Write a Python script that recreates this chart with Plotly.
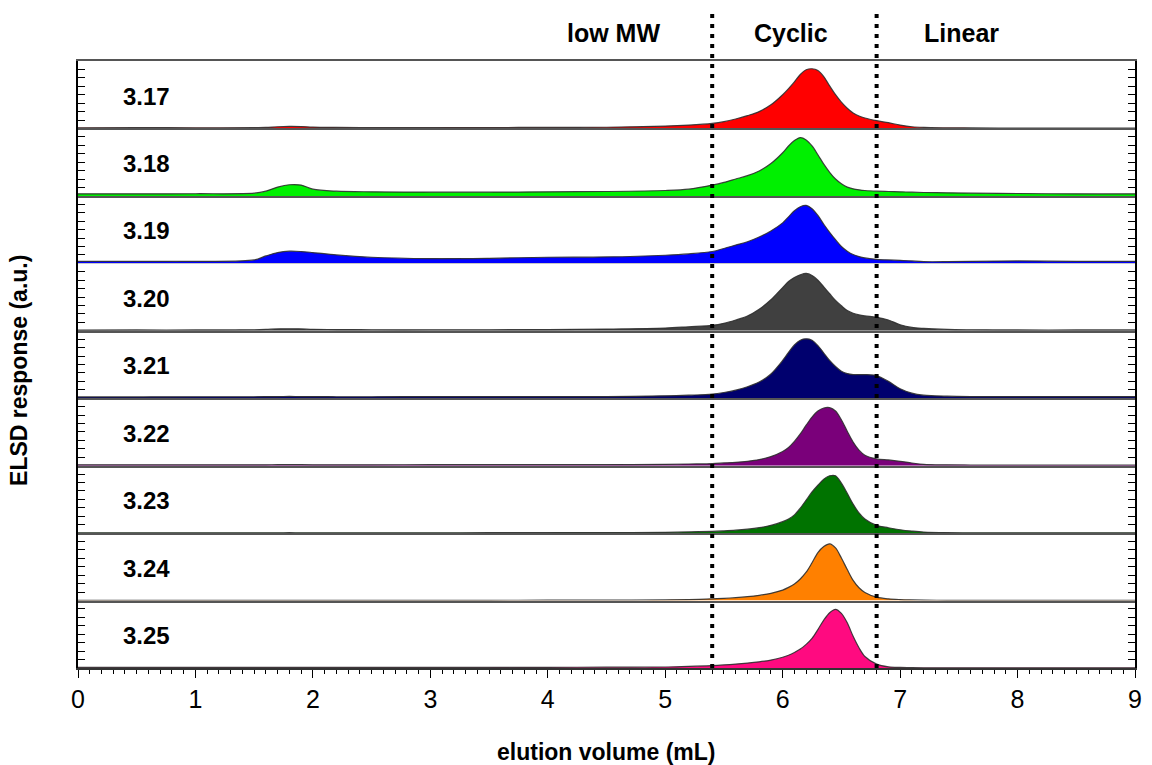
import plotly.graph_objects as go
from plotly.subplots import make_subplots

# elution volume grid (mL)
elution = [0, 0.5, 1.0, 1.5, 1.6, 1.7, 1.8, 1.9, 2.0, 2.2, 2.5, 3.0, 3.5, 4.0, 4.5,
           5.0, 5.2, 5.4, 5.5, 5.6, 5.7, 5.8, 5.9, 6.0, 6.05, 6.1, 6.15, 6.2, 6.25,
           6.3, 6.35, 6.4, 6.45, 6.5, 6.55, 6.6, 6.65, 6.7, 6.8, 6.9, 7.0, 7.1, 7.2,
           7.4, 7.6, 8.0, 8.5, 9.0]

sample_labels = ["3.17", "3.18", "3.19", "3.20", "3.21", "3.22", "3.23", "3.24", "3.25"]

# normalised ELSD response (fraction of panel height)
r317 = [0.010, 0.012, 0.010, 0.012, 0.015, 0.025, 0.030, 0.028, 0.020, 0.015, 0.012, 0.012, 0.014, 0.015, 0.018,
        0.035, 0.050, 0.075, 0.100, 0.140, 0.190, 0.250, 0.350, 0.500, 0.590, 0.690, 0.800, 0.870, 0.885,
        0.860, 0.770, 0.630, 0.500, 0.390, 0.300, 0.230, 0.185, 0.155, 0.115, 0.085, 0.050, 0.025, 0.015,
        0.010, 0.008, 0.006, 0.006, 0.005]
r318 = [0.030, 0.030, 0.032, 0.040, 0.070, 0.130, 0.165, 0.160, 0.100, 0.070, 0.060, 0.055, 0.055, 0.060, 0.065,
        0.080, 0.100, 0.160, 0.200, 0.250, 0.300, 0.370, 0.480, 0.640, 0.740, 0.820, 0.865, 0.830, 0.740,
        0.610, 0.470, 0.350, 0.250, 0.180, 0.130, 0.105, 0.090, 0.080, 0.070, 0.065, 0.060, 0.055, 0.050,
        0.045, 0.040, 0.035, 0.030, 0.030]
r319 = [0.030, 0.030, 0.030, 0.050, 0.110, 0.160, 0.180, 0.175, 0.160, 0.125, 0.090, 0.070, 0.075, 0.090, 0.095,
        0.120, 0.140, 0.175, 0.220, 0.270, 0.320, 0.390, 0.480, 0.600, 0.690, 0.780, 0.840, 0.860, 0.810,
        0.710, 0.580, 0.460, 0.350, 0.250, 0.180, 0.130, 0.100, 0.080, 0.060, 0.050, 0.045, 0.035, 0.025,
        0.025, 0.030, 0.035, 0.030, 0.030]
r320 = [0.010, 0.012, 0.012, 0.015, 0.020, 0.028, 0.030, 0.028, 0.022, 0.018, 0.015, 0.015, 0.015, 0.018, 0.025,
        0.040, 0.060, 0.080, 0.110, 0.160, 0.220, 0.320, 0.460, 0.640, 0.730, 0.790, 0.830, 0.850, 0.820,
        0.750, 0.650, 0.550, 0.450, 0.370, 0.300, 0.260, 0.235, 0.220, 0.200, 0.160, 0.090, 0.050, 0.035,
        0.020, 0.015, 0.012, 0.012, 0.012]
r321 = [0.020, 0.020, 0.022, 0.022, 0.024, 0.025, 0.026, 0.025, 0.024, 0.022, 0.022, 0.024, 0.025, 0.025, 0.025,
        0.035, 0.045, 0.060, 0.085, 0.120, 0.170, 0.240, 0.360, 0.560, 0.680, 0.790, 0.860, 0.880, 0.860,
        0.780, 0.670, 0.560, 0.470, 0.400, 0.365, 0.350, 0.350, 0.350, 0.335, 0.250, 0.140, 0.075, 0.045,
        0.030, 0.025, 0.025, 0.025, 0.025]
r322 = [0.012, 0.012, 0.012, 0.013, 0.013, 0.014, 0.015, 0.014, 0.013, 0.013, 0.013, 0.014, 0.014, 0.015, 0.015,
        0.020, 0.025, 0.030, 0.040, 0.050, 0.065, 0.090, 0.135, 0.210, 0.270, 0.360, 0.470, 0.600, 0.720,
        0.810, 0.855, 0.860, 0.810, 0.680, 0.510, 0.350, 0.230, 0.155, 0.100, 0.085, 0.065, 0.040, 0.020,
        0.012, 0.010, 0.010, 0.010, 0.010]
r323 = [0.005, 0.005, 0.005, 0.005, 0.005, 0.005, 0.006, 0.005, 0.005, 0.005, 0.005, 0.005, 0.006, 0.007, 0.008,
        0.012, 0.018, 0.025, 0.033, 0.043, 0.058, 0.080, 0.115, 0.170, 0.210, 0.270, 0.370, 0.490, 0.610,
        0.710, 0.800, 0.850, 0.850, 0.740, 0.590, 0.430, 0.300, 0.210, 0.115, 0.080, 0.050, 0.030, 0.015,
        0.006, 0.005, 0.005, 0.005, 0.005]
r324 = [0.003, 0.003, 0.003, 0.003, 0.003, 0.003, 0.004, 0.003, 0.003, 0.003, 0.003, 0.003, 0.004, 0.005, 0.006,
        0.010, 0.015, 0.025, 0.033, 0.043, 0.057, 0.077, 0.107, 0.155, 0.195, 0.245, 0.320, 0.420, 0.560,
        0.710, 0.800, 0.840, 0.780, 0.630, 0.460, 0.300, 0.190, 0.120, 0.050, 0.025, 0.015, 0.010, 0.006,
        0.004, 0.003, 0.003, 0.003, 0.003]
r325 = [0.008, 0.008, 0.008, 0.008, 0.008, 0.008, 0.008, 0.008, 0.008, 0.008, 0.008, 0.008, 0.009, 0.010, 0.012,
        0.015, 0.025, 0.035, 0.045, 0.058, 0.073, 0.092, 0.118, 0.160, 0.190, 0.230, 0.280, 0.350, 0.440,
        0.570, 0.710, 0.820, 0.870, 0.810, 0.670, 0.470, 0.300, 0.170, 0.058, 0.018, 0.008, 0.005, 0.004,
        0.003, 0.003, 0.003, 0.003, 0.003]

series = [r317, r318, r319, r320, r321, r322, r323, r324, r325]
fill_colors = ["#FF0000", "#00F000", "#0000FF", "#404040", "#00006E",
               "#7A007A", "#007300", "#FF8000", "#FF0A80"]

region_bounds = [5.4, 6.8]
region_names = ["low MW", "Cyclic", "Linear"]
region_centers = [4.56, 6.07, 7.52]

x_ticks = list(range(0, 10))

FONT = "Liberation Sans, Arial, Helvetica, sans-serif"
n = len(series)

fig = make_subplots(rows=n, cols=1, shared_xaxes=True, vertical_spacing=0)

for i, (vals, col) in enumerate(zip(series, fill_colors), start=1):
    fig.add_trace(go.Scatter(
        x=elution, y=vals, mode="lines", fill="tozeroy", fillcolor=col,
        line=dict(color="rgba(45,45,45,0.9)", width=1.2, shape="spline", smoothing=0.9),
        showlegend=False, hoverinfo="skip"), row=i, col=1)
    fig.update_yaxes(range=[0, 1], tickvals=[k / 8 for k in range(1, 8)], ticks="inside",
                     ticklen=7, tickwidth=1, tickcolor="black", showticklabels=False,
                     showline=True, linecolor="black", linewidth=1.5, mirror="ticks",
                     showgrid=False, zeroline=False, row=i, col=1)
    xa = dict(range=[0, 9], showline=True, linecolor="#555555", linewidth=1.5,
              showgrid=False, zeroline=False)
    if i == 1:
        xa["mirror"] = True
    if i < n:
        xa.update(ticks="", showticklabels=False)
    else:
        xa.update(tickvals=x_ticks, ticks="outside", ticklen=8, tickwidth=1.2,
                  tickcolor="black", linecolor="#333333",
                  tickfont=dict(family=FONT, size=25, color="black"),
                  minor=dict(dtick=0.1, ticks="outside", ticklen=4, tickwidth=1,
                             tickcolor="black"))
    fig.update_xaxes(**xa, row=i, col=1)
    xr = "x" if i == 1 else f"x{i}"
    yr = "y" if i == 1 else f"y{i}"
    fig.add_annotation(x=0.37, y=0.48, xref=xr, yref=yr, text=f"<b>{sample_labels[i-1]}</b>",
                       showarrow=False, xanchor="left", yanchor="middle",
                       font=dict(family=FONT, size=24, color="black"))

for b in region_bounds:
    fig.add_shape(type="line", xref=f"x{n}", yref="paper", x0=b, x1=b, y0=0, y1=1.079,
                  line=dict(color="black", width=4, dash="4px,6px"), layer="above")

for name, cx in zip(region_names, region_centers):
    fig.add_annotation(x=cx, y=1.046, xref=f"x{n}", yref="paper", text=f"<b>{name}</b>",
                       showarrow=False, xanchor="center", yanchor="middle",
                       font=dict(family=FONT, size=25, color="black"))

fig.add_annotation(x=0.5, y=-0.138, xref="paper", yref="paper",
                   text="<b>elution volume (mL)</b>", showarrow=False,
                   xanchor="center", yanchor="middle",
                   font=dict(family=FONT, size=23, color="black"))
fig.add_annotation(x=-0.0564, y=0.49, xref="paper", yref="paper",
                   text="<b>ELSD response (a.u.)</b>", showarrow=False, textangle=-90,
                   xanchor="center", yanchor="middle",
                   font=dict(family=FONT, size=23, color="black"))

fig.update_layout(width=1152, height=765, margin=dict(l=78, r=10, t=61, b=97),
                  paper_bgcolor="white", plot_bgcolor="white",
                  font=dict(family=FONT, color="black"))

fig.write_html("out.html")
